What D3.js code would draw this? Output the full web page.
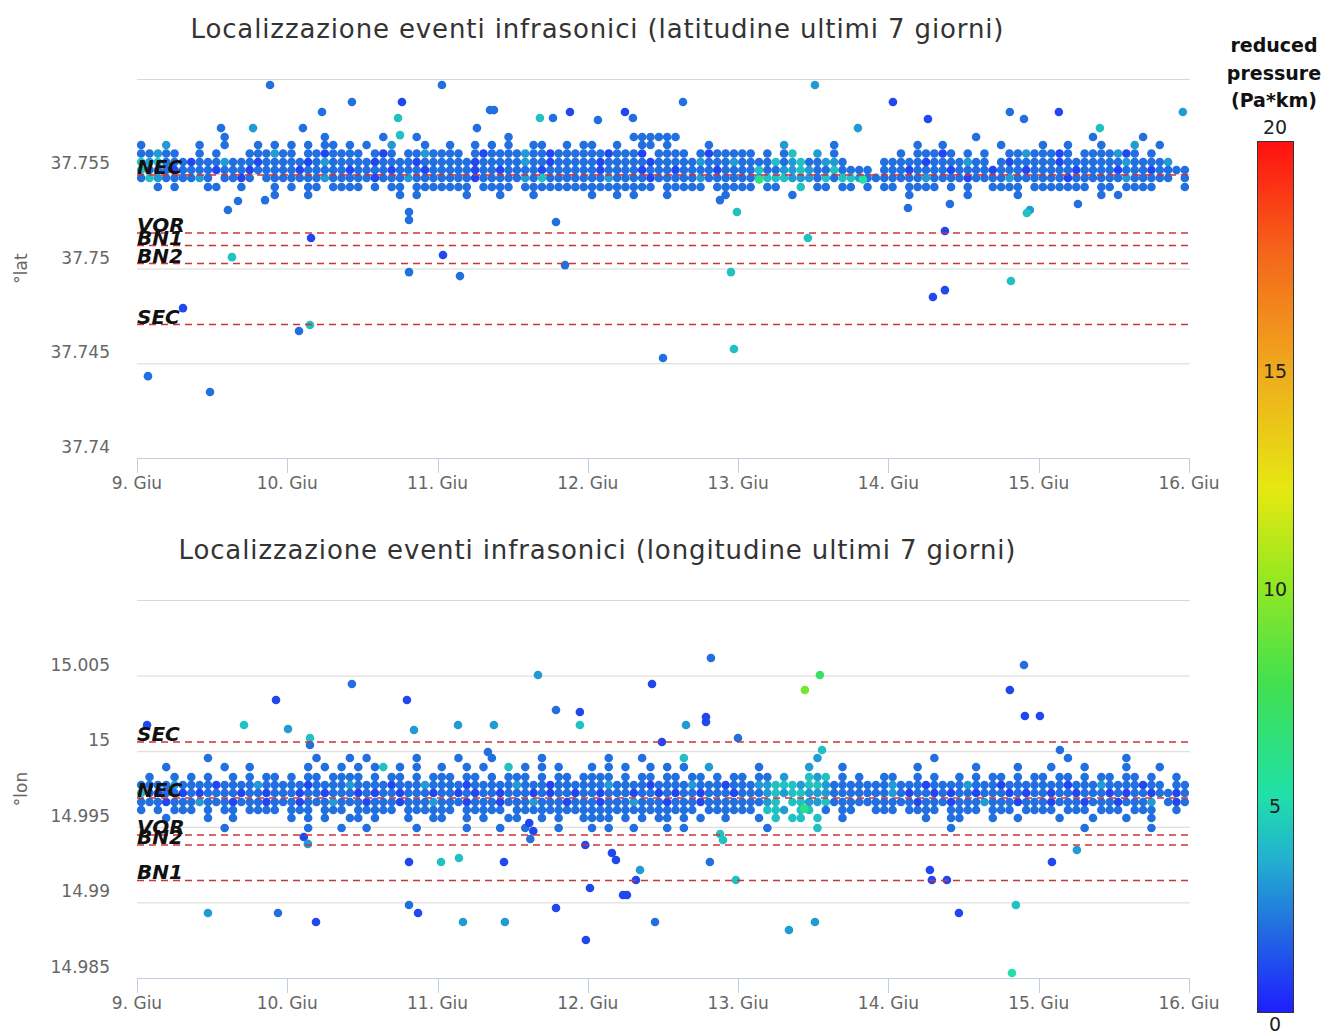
<!DOCTYPE html>
<html>
<head>
<meta charset="utf-8">
<script src="https://cdn.jsdelivr.net/npm/d3@7"></script>
<style>
  body { margin: 0; background: #fff; }
  text { font-family: "DejaVu Sans", sans-serif; }
</style>
</head>
<body>
<svg width="1327" height="1031"></svg>
<script>

// --- data (days are days of June, fractional) ---
var dayTicks = [9, 10, 11, 12, 13, 14, 15, 16];
var latTicks = [37.74, 37.745, 37.75, 37.755, 37.76];
var lonTicks = [14.985, 14.99, 14.995, 15, 15.005, 15.01];

var stationNamesLat = ["NEC", "VOR", "BN1", "BN2", "SEC"];
var stationLat = [37.75493, 37.75187, 37.75121, 37.75026, 37.74704];
var stationNamesLon = ["SEC", "NEC", "VOR", "BN2", "BN1"];
var stationLon = [15.00061, 14.99690, 14.99446, 14.99380, 14.99145];

// colour bar (reduced pressure, Pa*km)
var cbTicks = [0, 5, 10, 15, 20];
var cbStops = [0, 2, 3.5, 5, 7.5, 10, 12, 15, 17.5, 20];
var cbColors = ["#1e1eff", "#2270e0", "#22b0d0", "#20e0a8", "#40e050",
                "#98e820", "#e6e812", "#f0a41e", "#f5641a", "#ff1010"];

// dense band: one string per row, one char per 80-minute slot, digit = pressure, "|" splits days
var binsPerDay = 18;
var latBandRows = [37.75694, 37.75652, 37.75607, 37.75562, 37.75520, 37.75478, 37.75430, 37.75388];
var latBand = [
  "..........2.......|....2......2...2..|........2.........|.....222222.......|..................|..........2.......|......2.....2.....",
  "2..3...2..2...2.2.|2.2.22.2.2..3...2.|.2..2.2.2..22..2.2|2..2..22.2....2...|.....3.....2......|...2..2......2....|2..2...2...3..2...",
  "22322..2.2...22232|2.2212222.212.2232|222.21222232212222|2212221.2222.21222|22.2.24..3.2......|.2.22212.2.2..2232|2212.2222312.2....",
  "434222122232221222|221232222212222122|222212222232212222|212222212222232223|2222423422332....2|222212222322.21222|2212222222322223..",
  "422212222122212222|212222212222122212|222212212222122222|212222122212222122|2242233432242222.2|221222212222122212|222212222122212222",
  "243222232.2212.222|222232222212223222|222212222232422222|223222212222232222|223444333242443222|222232222122223222|2221222222322222.2",
  "..2.2...22..2...2.|2.22.2222.2.22.222|2222.2222.22222222|22222222.22222.222|22.22..4.22.22.2.2|2.2222.2.2..2222.2|222222.22.2222...2",
  "................2.|..2..........2.2..|...2...2...2......|2..2.2...2......2.|......2...........|..2......2.....2..|.......2.2........"
];
var lonBandRows = [14.99955, 14.99895, 14.99829, 14.99776, 14.99724, 14.99664, 14.99611, 14.99558, 14.99492];
var lonBand = [
  "........2.........|...2...2.2.....2..|..2...2.....2.....|..2...2....4......|.........3........|.....2............|...2......2.......",
  "...2......2..2....|..2.2.2.2.24.2.2..|2..2.2..4.2.2.2...|2.2.2..2.2.2..3...|..2.....3...2.....|...2......2....2..|.2...2....2...2...",
  ".2..2.2.2..2.2.22.|2.22.2222.2.22.2.2|22.22.2.222.2.22.2|222.2.22.22.22.2.2|2.22.3..434.2.2..2|2..2.2..2.2.22.2.2|2.22.2.22.22.2..2.",
  "222232222122223222|221222232222122232|222122222322212222|223222212222322212|223344434432222222|322212222322212222|222122232222122.22",
  "421221212222122122|212212221212212221|221212212221212212|212221221212212221|222343443332222222|321221212212221212|212212221212212212",
  "222122232221222122|212223222122212223|222122212223222122|212223222122212222|22234.443342222222|222122212223222122|21222122212223.212",
  "2.2.222.2.22.2222.|222.222.22222.2222|22.22222.222222222|2222222222222.2222|22.443.44.2.22..22|2.2222.2222.222.22|22.222.222.222..2.",
  "...2....2..2......|2.2.2..22.2...2..2|2..2.2..22..2.2..2|222.2.2.22.2.2..2.|..2.4.44.4..2.....|....2..22...2..2..|..2...2...2..2....",
  "..........2.......|..2...2..2.....2..|...2...2..2...2...|2.2..2...2.2......|...2.....4........|.......2..........|.....2.......2...."
];

// isolated events: [day of June, degrees, pressure]
var latScatter = [
  [9.885, 37.75968, 2], [11.029, 37.75968, 2], [13.511, 37.75968, 3], [10.430, 37.75879, 2],
  [10.763, 37.75879, 1], [10.231, 37.75826, 2], [11.349, 37.75836, 2], [11.375, 37.75836, 2],
  [11.681, 37.75794, 4], [11.768, 37.75794, 2], [11.881, 37.75826, 1], [12.067, 37.75784, 2],
  [12.247, 37.75826, 1], [12.300, 37.75794, 2], [12.633, 37.75879, 2], [14.030, 37.75879, 1],
  [14.263, 37.75789, 1], [14.808, 37.75826, 2], [14.902, 37.75789, 2], [15.134, 37.75826, 1],
  [15.959, 37.75826, 3], [9.559, 37.75741, 2], [9.772, 37.75741, 3], [10.104, 37.75741, 2],
  [10.737, 37.75794, 4], [10.750, 37.75704, 4], [11.262, 37.75741, 2], [13.797, 37.75741, 3],
  [15.407, 37.75741, 4], [9.605, 37.75309, 2], [9.672, 37.75356, 2], [9.852, 37.75361, 2],
  [10.810, 37.75298, 2], [10.810, 37.75256, 2], [11.788, 37.75245, 2], [12.879, 37.75361, 2],
  [12.992, 37.75298, 4], [14.130, 37.75319, 2], [14.409, 37.75340, 2], [14.941, 37.75309, 3],
  [14.921, 37.75293, 4], [15.261, 37.75340, 2], [9.632, 37.75060, 4], [10.158, 37.75161, 1],
  [11.036, 37.75071, 1], [10.810, 37.74981, 2], [11.149, 37.74960, 2], [11.848, 37.75018, 2],
  [12.952, 37.74981, 4], [13.464, 37.75161, 4], [14.376, 37.75198, 1], [14.376, 37.74886, 1],
  [14.296, 37.74850, 1], [14.815, 37.74934, 4], [9.306, 37.74791, 1], [10.078, 37.74670, 2],
  [10.151, 37.74702, 4], [12.500, 37.74528, 2], [12.972, 37.74575, 4], [9.073, 37.74432, 2],
  [9.486, 37.74348, 2], [13.140, 37.75470, 6], [13.830, 37.75470, 5]
];
var lonScatter = [
  [12.819, 15.00616, 2], [13.444, 15.00405, 9], [13.544, 15.00504, 7], [12.427, 15.00444, 1],
  [14.902, 15.00570, 2], [14.808, 15.00405, 1], [11.668, 15.00504, 3], [10.430, 15.00444, 2],
  [9.925, 15.00339, 1], [10.796, 15.00339, 1], [12.786, 15.00226, 1], [12.786, 15.00193, 1],
  [9.712, 15.00173, 4], [10.005, 15.00147, 3], [11.136, 15.00173, 3], [11.375, 15.00173, 3],
  [11.788, 15.00272, 2], [11.947, 15.00259, 1], [11.947, 15.00173, 4], [12.653, 15.00173, 3],
  [14.908, 15.00233, 1], [15.008, 15.00233, 1], [9.067, 15.00173, 1], [10.151, 15.00087, 4],
  [10.151, 15.00041, 2], [10.843, 15.00140, 3], [12.999, 15.00087, 2], [12.493, 15.00061, 1],
  [11.335, 14.99995, 2], [15.141, 15.00008, 2], [13.558, 15.00008, 4], [11.142, 14.99294, 4],
  [11.023, 14.99267, 4], [10.810, 14.99267, 1], [11.442, 14.99267, 1], [12.014, 14.99095, 1],
  [12.160, 14.99327, 1], [12.187, 14.99280, 1], [12.234, 14.99049, 1], [12.260, 14.99049, 1],
  [12.320, 14.99148, 1], [12.347, 14.99214, 3], [12.812, 14.99267, 2], [12.985, 14.99148, 4],
  [14.276, 14.99214, 1], [14.289, 14.99148, 1], [14.389, 14.99148, 1], [15.088, 14.99267, 1],
  [15.254, 14.99347, 3], [9.472, 14.98930, 3], [9.938, 14.98930, 2], [10.191, 14.98870, 1],
  [10.810, 14.98983, 2], [10.870, 14.98930, 1], [11.169, 14.98870, 3], [11.448, 14.98870, 3],
  [11.788, 14.98963, 1], [11.987, 14.98751, 1], [12.447, 14.98870, 2], [13.338, 14.98817, 3],
  [13.511, 14.98870, 3], [14.469, 14.98930, 1], [14.848, 14.98983, 4], [14.822, 14.98533, 5],
  [12.899, 14.99413, 4], [10.110, 14.99433, 1], [10.137, 14.99387, 3], [11.610, 14.99525, 1],
  [11.637, 14.99472, 1], [11.617, 14.99419, 2], [11.983, 14.99380, 1], [12.880, 14.99452, 4],
  [13.440, 14.99620, 6]
];

var svg = d3.select("svg");

function day(d) { return new Date(Date.UTC(2016, 5, 0) + d * 864e5); }

var x = d3.scaleUtc()
    .domain([day(dayTicks[0]), day(dayTicks[dayTicks.length - 1])])
    .range([137, 1189]);

var color = d3.scaleLinear()
    .domain(cbStops)
    .range(cbColors)
    .interpolate(d3.interpolateRgb)
    .clamp(true);

var fmt = d3.format(".3~f");

function bandPoints(rows, band) {
  var pts = [];
  band.forEach(function(s, r) {
    s.replace(/\|/g, "").split("").forEach(function(c, i) {
      if (c !== ".") pts.push([dayTicks[0] + (i + 0.5) / binsPerDay, rows[r], +c]);
    });
  });
  return pts;
}

function panel(p) {
  var y = d3.scaleLinear()
      .domain([p.ticks[0], p.ticks[p.ticks.length - 1]])
      .range([p.bottom, p.top]);
  var g = svg.append("g");

  g.append("text")
      .attr("x", 597).attr("y", p.titleY)
      .attr("text-anchor", "middle")
      .attr("font-size", 26)
      .attr("textLength", p.titleWidth)
      .attr("lengthAdjust", "spacing")
      .attr("fill", "#333")
      .text(p.title);

  g.selectAll(".grid").data(p.ticks).enter().append("line")
      .attr("x1", 137).attr("x2", 1190)
      .attr("y1", function(d) { return y(d) + 0.5; })
      .attr("y2", function(d) { return y(d) + 0.5; })
      .attr("stroke", "#d8d8d8");

  g.selectAll(".ylab").data(p.ticks.slice(0, -1)).enter().append("text")
      .attr("x", 110).attr("y", function(d) { return y(d) - 5; })
      .attr("text-anchor", "end")
      .attr("font-size", 17)
      .attr("fill", "#666")
      .text(fmt);

  g.append("text")
      .attr("transform", "translate(27," + (p.top + p.bottom) / 2 + ") rotate(-90)")
      .attr("text-anchor", "middle")
      .attr("font-size", 17)
      .attr("fill", "#666")
      .text(p.axisTitle);

  // x axis
  g.append("line")
      .attr("x1", 137).attr("x2", 1190)
      .attr("y1", p.bottom + 0.5).attr("y2", p.bottom + 0.5)
      .attr("stroke", "#c0d0e0");
  g.selectAll(".xtick").data(dayTicks).enter().append("line")
      .attr("x1", function(d) { return Math.round(x(day(d))) + 0.5; })
      .attr("x2", function(d) { return Math.round(x(day(d))) + 0.5; })
      .attr("y1", p.bottom).attr("y2", p.bottom + 15)
      .attr("stroke", "#c0d0e0");
  g.selectAll(".xlab").data(dayTicks).enter().append("text")
      .attr("x", function(d) { return x(day(d)); })
      .attr("y", p.bottom + 31)
      .attr("text-anchor", "middle")
      .attr("font-size", 17)
      .attr("fill", "#666")
      .text(function(d) { return d + ". Giu"; });

  // events
  var pts = bandPoints(p.bandRows, p.band).concat(p.scatter);
  g.append("g").selectAll("circle").data(pts).enter().append("circle")
      .attr("cx", function(d) { return x(day(d[0])); })
      .attr("cy", function(d) { return y(d[1]); })
      .attr("r", 4.3)
      .attr("fill", function(d) { return color(d[2]); });

  // station lines
  g.selectAll(".st").data(p.stations).enter().append("line")
      .attr("x1", 137).attr("x2", 1190)
      .attr("y1", function(d) { return y(d); })
      .attr("y2", function(d) { return y(d); })
      .attr("stroke", "#c8373a")
      .attr("stroke-width", 1.5)
      .attr("stroke-dasharray", "7,5");
  g.selectAll(".stlab").data(p.stations).enter().append("text")
      .attr("x", 137).attr("y", function(d) { return y(d) - 1; })
      .attr("font-size", 20)
      .attr("font-weight", "bold")
      .attr("font-style", "italic")
      .attr("fill", "#111")
      .text(function(d, i) { return p.names[i]; });
}

panel({
  title: "Localizzazione eventi infrasonici (latitudine ultimi 7 giorni)",
  titleY: 38, titleWidth: 813, top: 79, bottom: 458,
  ticks: latTicks, axisTitle: "°lat",
  bandRows: latBandRows, band: latBand, scatter: latScatter,
  stations: stationLat, names: stationNamesLat
});

panel({
  title: "Localizzazione eventi infrasonici (longitudine ultimi 7 giorni)",
  titleY: 559, titleWidth: 837, top: 600, bottom: 978,
  ticks: lonTicks, axisTitle: "°lon",
  bandRows: lonBandRows, band: lonBand, scatter: lonScatter,
  stations: stationLon, names: stationNamesLon
});

// colour bar
var cb = d3.scaleLinear().domain([0, 20]).range([1012, 141]);
var grad = svg.append("defs").append("linearGradient")
    .attr("id", "cbgrad")
    .attr("x1", 0).attr("y1", 1).attr("x2", 0).attr("y2", 0);
grad.selectAll("stop").data(cbStops).enter().append("stop")
    .attr("offset", function(d) { return d / 20; })
    .attr("stop-color", function(d, i) { return cbColors[i]; });

svg.append("rect")
    .attr("x", 1257.5).attr("y", cb(20) + 0.5)
    .attr("width", 36).attr("height", cb(0) - cb(20))
    .attr("fill", "url(#cbgrad)")
    .attr("stroke", "#333");

svg.selectAll(".cblab").data(cbTicks).enter().append("text")
    .attr("x", 1275)
    .attr("y", function(d) { return d === 20 ? cb(d) - 7 : cb(d) + 19; })
    .attr("text-anchor", "middle")
    .attr("font-size", 19)
    .attr("fill", "#222")
    .text(function(d) { return d; });

svg.selectAll(".cbtitle").data(["reduced", "pressure", "(Pa*km)"]).enter().append("text")
    .attr("x", 1274)
    .attr("y", function(d, i) { return 52 + i * 27.5; })
    .attr("text-anchor", "middle")
    .attr("font-size", 19)
    .attr("font-weight", "bold")
    .attr("fill", "#111")
    .text(function(d) { return d; });

</script>
</body>
</html>
